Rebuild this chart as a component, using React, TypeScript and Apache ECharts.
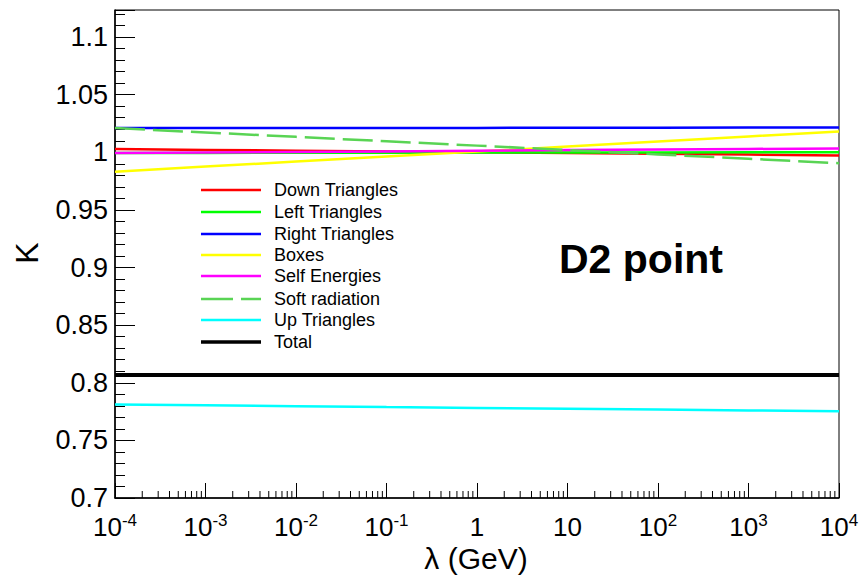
import React, { useEffect, useRef } from "react";
import * as echarts from "echarts";

const lambda = [1e-4, 1e-3, 1e-2, 1e-1, 1, 10, 100, 1000, 1e4];
const downTriangles = [1.0028, 1.0021, 1.0014, 1.0007, 1.0, 0.9993, 0.9987, 0.998, 0.9973];
const leftTriangles = [0.9994, 0.9995, 0.9996, 0.9997, 0.9998, 0.9999, 0.9999, 1.0, 1.0];
const rightTriangles = [1.021, 1.021, 1.021, 1.0211, 1.0212, 1.0213, 1.0214, 1.0215, 1.0216];
const boxes = [0.9832, 0.9876, 0.992, 0.9963, 1.0006, 1.005, 1.0094, 1.0138, 1.0181];
const selfEnergies = [0.9993, 0.9998, 1.0003, 1.0008, 1.0013, 1.0019, 1.0024, 1.0029, 1.0034];
const softRadiation = [1.021, 1.0172, 1.0134, 1.0096, 1.0058, 1.002, 0.9982, 0.9944, 0.9905];
const upTriangles = [0.7811, 0.7804, 0.7797, 0.7789, 0.7782, 0.7775, 0.7768, 0.776, 0.7753];
const total = [0.8068, 0.8068, 0.8068, 0.8068, 0.8068, 0.8068, 0.8068, 0.8068, 0.8068];

const seriesNames = [
  "Down Triangles",
  "Left Triangles",
  "Right Triangles",
  "Boxes",
  "Self Energies",
  "Soft radiation",
  "Up Triangles",
  "Total",
];
const seriesValues = [
  downTriangles,
  leftTriangles,
  rightTriangles,
  boxes,
  selfEnergies,
  softRadiation,
  upTriangles,
  total,
];
const seriesColors = ["#ff0000", "#00ff00", "#0000ff", "#ffff00", "#ff00ff", "#59d454", "#00ffff", "#000000"];

const FONT = "'Liberation Sans', Arial, sans-serif";
const Y_MIN = 0.7;
const Y_MAX = 1.1235;
const SOFT_DASH = [30, 8];

// minor tick positions on log axis (2..9 x 10^n)
const minorTicks: number[][] = [];
for (let n = -4; n < 4; n++) {
  for (let k = 2; k <= 9; k++) minorTicks.push([k * Math.pow(10, n), Y_MIN]);
}

// legend row layout
const legendRows = [190, 212, 234, 255, 276, 299, 320, 342];

export default function App() {
  const ref = useRef<HTMLDivElement>(null);
  useEffect(() => {
    document.body.style.margin = "0";
    const chart = echarts.init(ref.current!, null, { renderer: "svg" });
    const widthOf = (name: string) => (name === "Total" ? 4 : 2.5);
    const lineSeries = seriesNames.map((name, i) => ({
      name,
      type: "line",
      symbol: "none",
      data: lambda.map((x, j) => [x, seriesValues[i][j]]),
      lineStyle: {
        color: seriesColors[i],
        width: widthOf(name),
        type: name === "Soft radiation" ? SOFT_DASH : "solid",
      },
      itemStyle: { color: seriesColors[i] },
      z: 3,
    }));
    const legendGraphics: any[] = [];
    seriesNames.forEach((name, i) => {
      const y = legendRows[i];
      legendGraphics.push({
        type: "line",
        shape: { x1: 201, y1: y, x2: 261, y2: y },
        style: {
          stroke: seriesColors[i],
          lineWidth: widthOf(name) === 4 ? 3.5 : 2.5,
          lineDash: name === "Soft radiation" ? [32, 8] : null,
        },
      });
      legendGraphics.push({
        type: "text",
        x: 274,
        y,
        style: {
          text: name,
          fontFamily: FONT,
          fontSize: 18,
          fill: "#000",
          align: "left",
          verticalAlign: "middle",
        },
      });
    });
    chart.setOption({
      animation: false,
      backgroundColor: "#ffffff",
      textStyle: { fontFamily: FONT },
      grid: {
        left: 115,
        right: 23,
        top: 10,
        bottom: 84,
        show: true,
        borderColor: "#000",
        borderWidth: 1,
        backgroundColor: "transparent",
      },
      xAxis: {
        type: "log",
        logBase: 10,
        min: 1e-4,
        max: 1e4,
        splitNumber: 8,
        splitLine: { show: false },
        axisLine: { show: true, onZero: false, lineStyle: { color: "#000", width: 1.5 } },
        axisTick: { show: true, inside: true, length: 15, lineStyle: { color: "#000", width: 1 } },
        axisLabel: {
          margin: 14,
          formatter: (v: number) => {
            const e = Math.round(Math.log10(v));
            if (e === 0) return "{b|1}";
            if (e === 1) return "{b|10}";
            return "{b|10}{s|" + e + "}";
          },
          rich: {
            b: { fontFamily: FONT, fontSize: 26, color: "#000", lineHeight: 30 },
            s: { fontFamily: FONT, fontSize: 17, color: "#000", lineHeight: 17, verticalAlign: "top" },
          },
        },
      },
      yAxis: {
        type: "value",
        min: Y_MIN,
        max: Y_MAX,
        interval: 0.05,
        splitLine: { show: false },
        axisLine: { show: true, onZero: false, lineStyle: { color: "#000", width: 1.5 } },
        axisTick: { show: true, inside: true, length: 20, lineStyle: { color: "#000", width: 1 } },
        minorTick: { show: true, splitNumber: 5, length: 10, lineStyle: { color: "#000", width: 1 } },
        axisLabel: {
          margin: 7,
          fontFamily: FONT,
          fontSize: 27,
          color: "#000",
          formatter: (v: number) => {
            const r = Math.round(v / 0.05);
            if (Math.abs(v / 0.05 - r) > 1e-6) return "";
            return String(Number(v.toFixed(2)));
          },
        },
      },
      series: [
        ...lineSeries,
        {
          type: "custom",
          name: "minorX",
          data: minorTicks,
          clip: false,
          silent: true,
          z: 4,
          renderItem: (params: any, api: any) => {
            const p = api.coord([api.value(0), api.value(1)]);
            return {
              type: "line",
              shape: { x1: p[0], y1: p[1], x2: p[0], y2: p[1] - 7 },
              style: { stroke: "#000", lineWidth: 1 },
            };
          },
        },
      ],
      graphic: [
        ...legendGraphics,
        {
          type: "text",
          x: 641,
          y: 259,
          style: {
            text: "D2 point",
            fontFamily: FONT,
            fontWeight: "bold",
            fontSize: 41,
            fill: "#000",
            align: "center",
            verticalAlign: "middle",
          },
        },
        {
          type: "text",
          x: 27,
          y: 253,
          rotation: Math.PI / 2,
          style: {
            text: "K",
            fontFamily: FONT,
            fontSize: 32,
            fill: "#000",
            align: "center",
            verticalAlign: "middle",
          },
        },
        {
          type: "text",
          x: 476,
          y: 558,
          style: {
            text: "λ (GeV)",
            fontFamily: FONT,
            fontSize: 30,
            fill: "#000",
            align: "center",
            verticalAlign: "middle",
          },
        },
      ],
    });
    return () => chart.dispose();
  }, []);
  return <div ref={ref} style={{ width: 862, height: 582 }} />;
}
